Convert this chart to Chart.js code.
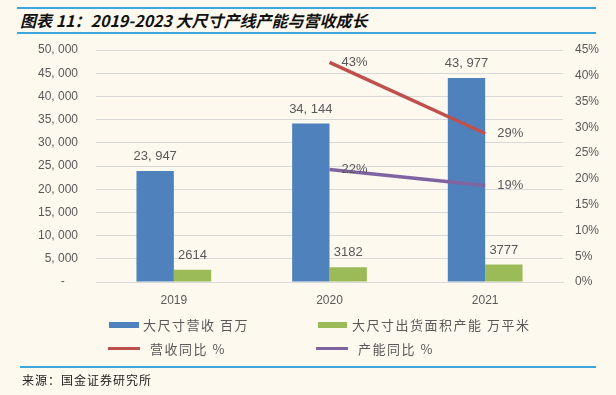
<!DOCTYPE html>
<html>
<head>
<meta charset="utf-8">
<script src="https://cdn.jsdelivr.net/npm/chart.js@4"></script>
<style>
  body { margin: 0; background: #fdf9ef; width: 616px; height: 395px; overflow: hidden; position: relative; font-family: "Noto Sans CJK SC", sans-serif; }
  .rule { position: absolute; left: 17px; width: 579px; height: 2px; background: #3ea6df; }
  #title { position: absolute; left: 20px; top: 8px; font-size: 16px; font-weight: bold; font-style: italic; color: #111; white-space: nowrap; }
  #source { position: absolute; left: 22px; top: 371px; font-size: 12px; color: #222; letter-spacing: 1px; }
  .leg { position: absolute; font-size: 13px; color: #595959; letter-spacing: 1.5px; white-space: nowrap; }
  .sw { position: absolute; }
  #chart { position: absolute; left: 0; top: 0; }
</style>
</head>
<body>
<div class="rule" style="top:7px"></div>
<div id="title">图表 11：2019-2023 大尺寸产线产能与营收成长</div>
<div class="rule" style="top:32px"></div>
<canvas id="chart" width="616" height="395"></canvas>

<!-- legend -->
<div class="sw" style="left:109px;top:322px;width:30px;height:6px;background:#4f81bd"></div>
<div class="leg" style="left:143px;top:315px">大尺寸营收 百万</div>
<div class="sw" style="left:318px;top:322px;width:29px;height:6px;background:#9bbb59"></div>
<div class="leg" style="left:352px;top:315px">大尺寸出货面积产能 万平米</div>
<div class="sw" style="left:108px;top:347px;width:32px;height:3px;background:#c0504d"></div>
<div class="leg" style="left:150px;top:339px">营收同比 %</div>
<div class="sw" style="left:316px;top:347px;width:32px;height:3px;background:#8064a2"></div>
<div class="leg" style="left:358px;top:339px">产能同比 %</div>

<div class="rule" style="top:366px;left:20px;width:576px"></div>
<div id="source">来源：国金证券研究所</div>

<script>
// --- data ---
const years = ["2019", "2020", "2021"];
const revenue = [23947, 34144, 43977];        // 大尺寸营收 百万
const capacity = [2614, 3182, 3777];          // 大尺寸出货面积产能 万平米
const revenueYoY = [null, 0.426, 0.288];      // 营收同比
const capacityYoY = [null, 0.218, 0.187];     // 产能同比

const TXT = "#595959";
const GRID = "#d9d9d9";
const fmtK = (v) => v.toLocaleString("en-US").replace(",", ", ");

// labels above bars / beside line points
const valueLabels = {
  id: "valueLabels",
  afterDatasetsDraw(chart) {
    const ctx = chart.ctx;
    ctx.save();
    ctx.font = "13px 'Liberation Sans', sans-serif";
    ctx.fillStyle = TXT;
    chart.data.datasets.forEach((ds, i) => {
      const meta = chart.getDatasetMeta(i);
      meta.data.forEach((el, j) => {
        const v = ds.data[j];
        if (v == null) return;
        if (ds.type === "line") {
          ctx.textAlign = "left";
          ctx.textBaseline = "middle";
          ctx.fillText(Math.round(v * 100) + "%", el.x + 12, el.y);
        } else {
          ctx.textAlign = "center";
          ctx.textBaseline = "bottom";
          const txt = ds.data === revenue ? fmtK(v) : String(v);
          ctx.fillText(txt, el.x, el.y - 8);
        }
      });
    });
    ctx.restore();
  }
};

new Chart(document.getElementById("chart"), {
  data: {
    labels: years,
    datasets: [
      { type: "line", label: "营收同比 %", data: revenueYoY, yAxisID: "y1",
        borderColor: "#c0504d", borderWidth: 3.5, pointRadius: 0, order: 0 },
      { type: "line", label: "产能同比 %", data: capacityYoY, yAxisID: "y1",
        borderColor: "#8064a2", borderWidth: 3.5, pointRadius: 0, order: 0 },
      { type: "bar", label: "大尺寸营收 百万", data: revenue, yAxisID: "y",
        backgroundColor: "#4f81bd", barPercentage: 1, categoryPercentage: 0.48, order: 1 },
      { type: "bar", label: "大尺寸出货面积产能 万平米", data: capacity, yAxisID: "y",
        backgroundColor: "#9bbb59", barPercentage: 1, categoryPercentage: 0.48, order: 1 }
    ]
  },
  options: {
    responsive: false,
    animation: false,
    layout: { padding: { top: 50 } },
    plugins: { legend: { display: false }, tooltip: { enabled: false } },
    scales: {
      x: {
        grid: { display: false },
        border: { color: GRID },
        ticks: { color: TXT, font: { size: 12, family: "'Liberation Sans', sans-serif" }, padding: 3 },
        afterFit(s) { s.height = 113; }
      },
      y: {
        position: "left",
        min: 0, max: 50000,
        grid: { color: GRID, drawTicks: false },
        border: { display: false },
        ticks: {
          stepSize: 5000, color: TXT, padding: 18,
          font: { size: 12, family: "'Liberation Sans', sans-serif" },
          callback: (v) => v === 0 ? "-    " : fmtK(v)
        },
        afterFit(s) { s.width = 96; }
      },
      y1: {
        position: "right",
        min: 0, max: 0.45,
        grid: { drawOnChartArea: false, drawTicks: false },
        border: { display: false },
        ticks: {
          stepSize: 0.05, color: TXT, padding: 12,
          font: { size: 12, family: "'Liberation Sans', sans-serif" },
          callback: (v) => Math.round(v * 100) + "%"
        },
        afterFit(s) { s.width = 53; }
      }
    }
  },
  plugins: [valueLabels]
});
</script>
</body>
</html>
